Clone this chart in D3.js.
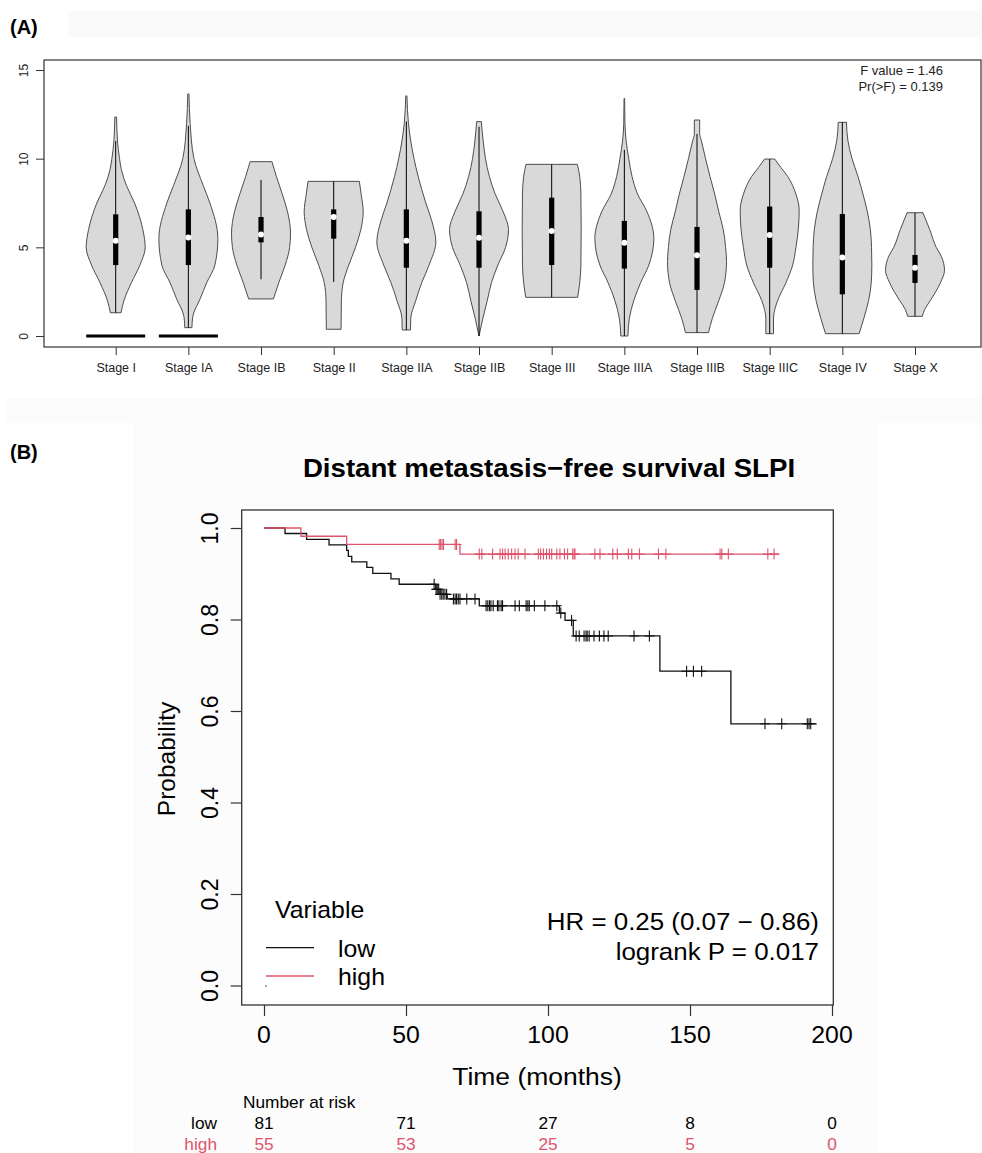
<!DOCTYPE html>
<html>
<head>
<meta charset="utf-8">
<script src="https://cdn.jsdelivr.net/npm/d3@7"></script>
<style>
  body { margin: 0; background: #fff; }
  svg { display: block; font-family: "Liberation Sans", Arial, Helvetica, sans-serif; }
</style>
</head>
<body>
<div id="chart"></div>
<script>
// ---- panel A: SLPI expression by stage ----
var stages = ["Stage I", "Stage IA", "Stage IB", "Stage II", "Stage IIA", "Stage IIB",
              "Stage III", "Stage IIIA", "Stage IIIB", "Stage IIIC", "Stage IV", "Stage X"];
var q1      = [4.0, 4.0, 5.28, 5.49, 3.85, 3.85, 4.0, 3.8, 2.6, 3.85, 2.35, 2.99];
var q3      = [6.86, 7.14, 6.71, 7.14, 7.14, 7.03, 7.8, 6.49, 6.15, 7.3, 6.88, 4.57];
var medians = [5.37, 5.56, 5.73, 6.71, 5.37, 5.54, 5.92, 5.26, 4.55, 5.7, 4.42, 3.85];
var whiskLo = [1.31, 0.47, 3.2, 3.05, 0.34, 0, 2.18, 0, 0.19, 0.13, 0.13, 1.11];
var whiskHi = [11.0, 11.85, 8.8, 8.72, 12.1, 11.8, 9.68, 10.5, 11.4, 9.98, 12.05, 6.95];
var zeroStages = ["Stage I", "Stage IA"];
var yTicksA = [0, 5, 10, 15];
var statText = ["F value = 1.46", "Pr(>F) = 0.139"];

// violin outlines: [expression, relative density]
var densities = [
  [[1.31,0.18],[2,0.28],[3,0.53],[4,0.82],[5,1.0],[6,0.92],[7.5,0.64],[8.5,0.36],[9.4,0.19],[10,0.13],[11,0.06],[12.35,0.03]],
  [[0.47,0.12],[1.1,0.15],[2.1,0.4],[3,0.62],[4,0.9],[5.5,1.0],[7.5,0.73],[8.5,0.5],[10,0.19],[12,0.06],[13.65,0.02]],
  [[2.09,0.42],[3,0.6],[4,0.82],[5,0.97],[5.8,1.0],[7,0.9],[8,0.72],[9,0.52],[9.83,0.37]],
  [[0.38,0.25],[2,0.26],[3,0.32],[4,0.51],[5,0.74],[6,0.92],[7,1.0],[8,0.93],[8.72,0.87]],
  [[0.34,0.14],[1,0.15],[2,0.32],[3,0.52],[4,0.77],[5.3,1.0],[6.5,0.86],[7.5,0.66],[9,0.4],[10,0.26],[12,0.07],[13.54,0.02]],
  [[0,0.0],[1,0.13],[2,0.28],[3,0.42],[4,0.64],[5,0.9],[6,1.0],[7,0.82],[8,0.55],[9,0.35],[10,0.22],[11,0.14],[12.09,0.08]],
  [[2.18,0.88],[3,0.95],[4,0.99],[6,1.0],[8,0.99],[9,0.95],[9.68,0.87]],
  [[0,0.12],[1,0.17],[2,0.32],[3,0.55],[4,0.83],[5.5,1.0],[7,0.77],[8,0.45],[9,0.26],[10,0.15],[11,0.06],[12,0.02],[13.4,0.01]],
  [[0.19,0.39],[1,0.52],[2,0.74],[3,0.93],[4.2,1.0],[5,0.97],[6,0.89],[7,0.74],[8,0.6],[9,0.44],[10,0.29],[11,0.15],[11.4,0.09],[12.18,0.09]],
  [[0.13,0.13],[1,0.13],[2,0.27],[3,0.55],[4,0.78],[5,0.89],[6,0.97],[7.1,1.0],[8,0.89],[9,0.61],[9.5,0.38],[9.98,0.17]],
  [[0.13,0.57],[1,0.73],[2,0.89],[3,0.98],[4,1.0],[5,0.99],[6,0.95],[7,0.85],[8,0.7],[9,0.53],[10,0.33],[11,0.19],[12.05,0.14]],
  [[1.11,0.25],[1.5,0.33],[2,0.52],[3,0.86],[3.7,1.0],[4.5,0.89],[5,0.72],[6,0.5],[6.95,0.27]]
];

// ---- panel B: Kaplan-Meier ----
var kmTitle = "Distant metastasis\u2212free survival SLPI";
var lowSteps = [[0,1],[7.4,0.988],[15.0,0.975],[22.9,0.963],[29.1,0.951],[29.7,0.938],[30.9,0.926],
  [36.2,0.914],[38.3,0.901],[44.7,0.889],[47.6,0.877],[60.5,0.866],[62.0,0.855],[64.5,0.845],
  [75.8,0.830],[104.0,0.814],[106.0,0.798],[108.9,0.764],[139.4,0.687],[164.4,0.572]];
var lowEnd = 194.6;
var lowCensor = [59.9, 60.6, 61.0, 61.5, 62.0, 62.6, 63.1, 63.7, 64.3, 66.7, 67.3, 67.8, 68.4, 69.0,
  71.4, 74.3, 78.2, 78.8, 79.4, 79.9, 80.7, 82.2, 82.7, 83.5, 84.0, 88.4, 89.9, 92.3, 92.9, 93.4,
  95.2, 98.9, 103.1, 104.5, 108.3, 109.9, 111.0, 112.7, 113.4, 113.8, 114.5, 116.2, 118.1, 119.7,
  121.2, 130.3, 135.7, 148.8, 151.2, 154.1, 176.4, 182.3, 191.3, 191.9, 192.5];
var highSteps = [[0,1],[13.0,0.982],[29.1,0.964],[69.0,0.943]];
var highEnd = 181.5;
var highCensor = [61.7, 62.2, 62.7, 63.2, 67.3, 67.8, 75.8, 76.7, 80.5, 83.1, 84.0, 84.9, 86.0, 87.2,
  88.4, 89.5, 91.9, 96.6, 97.4, 98.4, 99.5, 100.5, 101.3, 103.1, 104.2, 105.8, 106.9, 108.7, 109.2,
  109.5, 116.5, 118.3, 122.8, 124.4, 128.3, 129.5, 132.2, 138.9, 141.5, 160.6, 161.2, 163.5, 177.4, 179.6];
var xTicksB = [0, 50, 100, 150, 200];
var yTicksB = [0, 0.2, 0.4, 0.6, 0.8, 1.0];
var riskTimes = [0, 50, 100, 150, 200];
var riskLow = [81, 71, 27, 8, 0];
var riskHigh = [55, 53, 25, 5, 0];
var hrText = ["HR = 0.25 (0.07 \u2212 0.86)", "logrank P = 0.017"];

var red = "#DF536B";
var W = 982, H = 1153;

var svg = d3.select("#chart").append("svg")
    .attr("width", W)
    .attr("height", H);

svg.append("rect").attr("width", W).attr("height", H).attr("fill", "#fff");
// faint background patches of the original figure
svg.append("rect").attr("x", 68).attr("y", 11).attr("width", 914).attr("height", 26).attr("fill", "#fafafa");
svg.append("rect").attr("x", 7).attr("y", 398).attr("width", 975).attr("height", 25).attr("fill", "#fbfbfb");
svg.append("rect").attr("x", 133).attr("y", 423).attr("width", 745).attr("height", 730).attr("fill", "#fcfcfc");

// ================= Panel A =================
var xA = d3.scalePoint().domain(stages).range([115.7, 915]);
var yA = d3.scaleLinear().domain([0, 15]).range([336, 70]);
var wA = d3.scaleLinear().domain([0, 1]).range([0, 29.5]);

var gA = svg.append("g");

gA.append("text")
    .attr("x", 10).attr("y", 34)
    .style("font-size", "20px").style("font-weight", "bold")
    .text("(A)");

gA.append("rect")
    .attr("x", 44).attr("y", 60)
    .attr("width", 937).attr("height", 287)
    .attr("fill", "#fff").attr("stroke", "#333").attr("stroke-width", 1.2);

var violinArea = d3.area()
    .curve(d3.curveMonotoneY)
    .y(d => yA(d[0]));

stages.forEach(function(s, i) {
    var cx = xA(s);
    gA.append("path")
        .datum(densities[i])
        .attr("d", violinArea.x0(d => cx - wA(d[1])).x1(d => cx + wA(d[1])))
        .attr("fill", "#d9d9d9")
        .attr("stroke", "#4d4d4d")
        .attr("stroke-width", 1);
});

// degenerate groups at zero
gA.selectAll(".zero")
    .data(zeroStages)
    .enter().append("line")
    .attr("x1", d => xA(d) - wA(1))
    .attr("x2", d => xA(d) + wA(1))
    .attr("y1", yA(0)).attr("y2", yA(0))
    .attr("stroke", "#000").attr("stroke-width", 3);

gA.selectAll(".whisk")
    .data(stages)
    .enter().append("line")
    .attr("x1", d => xA(d)).attr("x2", d => xA(d))
    .attr("y1", (d, i) => yA(whiskLo[i]))
    .attr("y2", (d, i) => yA(whiskHi[i]))
    .attr("stroke", "#000").attr("stroke-width", 1);

gA.selectAll(".box")
    .data(stages)
    .enter().append("rect")
    .attr("x", d => xA(d) - 2.6)
    .attr("width", 5.2)
    .attr("y", (d, i) => yA(q3[i]))
    .attr("height", (d, i) => yA(q1[i]) - yA(q3[i]))
    .attr("fill", "#000");

gA.selectAll(".med")
    .data(stages)
    .enter().append("circle")
    .attr("cx", d => xA(d))
    .attr("cy", (d, i) => yA(medians[i]))
    .attr("r", 3)
    .attr("fill", "#fff");

var xAxisA = gA.append("g")
    .attr("transform", "translate(0,347)")
    .call(d3.axisBottom(xA).tickSize(8).tickPadding(8));
xAxisA.select(".domain").remove();
xAxisA.selectAll("line").attr("stroke", "#333");
xAxisA.selectAll("text").style("font-size", "12.5px").attr("fill", "#222");

var yAxisA = gA.append("g")
    .attr("transform", "translate(44,0)")
    .call(d3.axisLeft(yA).tickValues(yTicksA).tickSize(8));
yAxisA.select(".domain").remove();
yAxisA.selectAll("line").attr("stroke", "#333");
yAxisA.selectAll("text")
    .attr("x", null).attr("dy", null)
    .attr("transform", "translate(-16,0) rotate(-90)")
    .style("text-anchor", "middle")
    .style("font-size", "12px").attr("fill", "#222");

gA.selectAll(".stat")
    .data(statText)
    .enter().append("text")
    .attr("x", 943)
    .attr("y", (d, i) => 75 + i * 16)
    .attr("text-anchor", "end")
    .style("font-size", "13px")
    .attr("fill", "#222")
    .text(d => d);

// ================= Panel B =================
var xB = d3.scaleLinear().domain([0, 200]).range([264, 832]);
var yB = d3.scaleLinear().domain([0, 1]).range([985.5, 528]);
var sx = 1.08; // panel B looks slightly stretched horizontally

var gB = svg.append("g");

function stretchText(g, x, y, str, size, anchor, color, weight) {
    return g.append("text")
        .attr("transform", "translate(" + x + "," + y + ") scale(" + sx + ",1)")
        .attr("text-anchor", anchor)
        .style("font-size", size + "px")
        .style("font-weight", weight || "normal")
        .attr("fill", color || "#000")
        .text(str);
}

gB.append("text")
    .attr("x", 10).attr("y", 459)
    .style("font-size", "20px").style("font-weight", "bold")
    .text("(B)");

stretchText(gB, 549, 477, kmTitle, 25.6, "middle", "#000", "bold");

gB.append("rect")
    .attr("x", 241.7).attr("y", 510)
    .attr("width", 591.6).attr("height", 495)
    .attr("fill", "#fff").attr("stroke", "#333").attr("stroke-width", 1.3);

var xAxisB = gB.append("g")
    .attr("transform", "translate(0,1005)")
    .call(d3.axisBottom(xB).tickValues(xTicksB).tickSize(11).tickFormat(""));
xAxisB.select(".domain").remove();
xAxisB.selectAll("line").attr("stroke", "#333").attr("stroke-width", 1.2);
xTicksB.forEach(function(t) {
    stretchText(gB, xB(t), 1043, t, 23, "middle");
});

var yAxisB = gB.append("g")
    .attr("transform", "translate(241.7,0)")
    .call(d3.axisLeft(yB).tickValues(yTicksB).tickSize(11).tickFormat(d3.format(".1f")));
yAxisB.select(".domain").remove();
yAxisB.selectAll("line").attr("stroke", "#333").attr("stroke-width", 1.2);
yAxisB.selectAll("text")
    .attr("x", null).attr("dy", null)
    .attr("transform", "translate(-24,0) rotate(-90)")
    .style("text-anchor", "middle")
    .style("font-size", "23px").attr("fill", "#000");

stretchText(gB, 537, 1085, "Time (months)", 24.5, "middle");

gB.append("text")
    .attr("transform", "translate(175,759) rotate(-90)")
    .attr("text-anchor", "middle")
    .style("font-size", "24.5px")
    .text("Probability");

// step curves
function survAt(steps, t) {
    var s = 1;
    steps.forEach(function(p) { if (p[0] <= t) s = p[1]; });
    return s;
}

var stepLine = d3.line()
    .curve(d3.curveStepAfter)
    .x(d => xB(d[0]))
    .y(d => yB(d[1]));

var groups = [
    {steps: lowSteps, end: lowEnd, censor: lowCensor, color: "#111"},
    {steps: highSteps, end: highEnd, censor: highCensor, color: red}
];

groups.forEach(function(g) {
    var pts = g.steps.concat([[g.end, g.steps[g.steps.length - 1][1]]]);
    gB.append("path")
        .datum(pts)
        .attr("d", stepLine)
        .attr("fill", "none")
        .attr("stroke", g.color)
        .attr("stroke-width", 1.3);

    var marks = gB.append("g").attr("stroke", g.color).attr("stroke-width", 1.1);
    marks.selectAll("path")
        .data(g.censor)
        .enter().append("path")
        .attr("d", function(t) {
            var x = xB(t), y = yB(survAt(g.steps, t));
            return "M" + (x - 5) + "," + y + "H" + (x + 5) + "M" + x + "," + (y - 5.5) + "V" + (y + 5.5);
        });
});

// legend
stretchText(gB, 275, 918, "Variable", 23, "start");
var legendItems = [["low", "#111"], ["high", red]];
legendItems.forEach(function(d, i) {
    var ly = 947.7 + i * 28.3;
    gB.append("line")
        .attr("x1", 266).attr("x2", 314)
        .attr("y1", ly).attr("y2", ly)
        .attr("stroke", d[1]).attr("stroke-width", 1.3);
    stretchText(gB, 338, ly + 9, d[0], 23, "start");
});
gB.append("circle").attr("cx", 266).attr("cy", 986).attr("r", 0.8).attr("fill", "#333");

hrText.forEach(function(t, i) {
    stretchText(gB, 819, 930 + i * 30, t, 24, "end");
});

// number at risk table
stretchText(gB, 243, 1107.5, "Number at risk", 16, "start");
stretchText(gB, 217, 1128.5, "low", 16, "end");
stretchText(gB, 217, 1149.5, "high", 16, "end", red);
riskTimes.forEach(function(t, i) {
    stretchText(gB, xB(t), 1128.5, riskLow[i], 16, "middle");
    stretchText(gB, xB(t), 1149.5, riskHigh[i], 16, "middle", red);
});
</script>
</body>
</html>
